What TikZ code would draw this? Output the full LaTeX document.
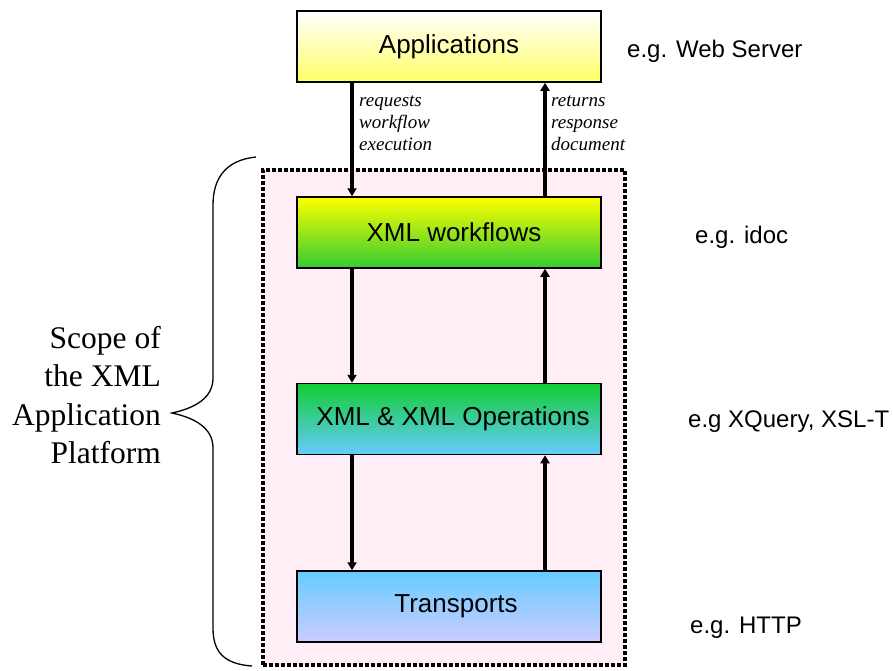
\documentclass[tikz,border=0pt]{standalone}
\usepackage{fontspec}
\setmainfont{Liberation Serif}
\newfontfamily\arialfont{Liberation Sans}
\usetikzlibrary{arrows.meta}
\definecolor{framepink}{RGB}{255,238,245}
\definecolor{appyellow}{RGB}{255,255,102}
\definecolor{wfyellow}{RGB}{255,255,0}
\definecolor{wfgreen}{RGB}{51,204,51}
\definecolor{opgreen}{RGB}{17,204,51}
\definecolor{opblue}{RGB}{102,204,255}
\definecolor{trlilac}{RGB}{204,204,255}
\tikzset{
  layer/.style={draw=black, line width=1.5pt, minimum width=304pt, minimum height=71pt,
    inner sep=0pt, font=\arialfont\fontsize{26}{30}\selectfont},
  flow/.style={line width=3.8pt, -{Triangle[width=9pt,length=8pt]}},
  note/.style={anchor=base west, inner sep=0pt, font=\arialfont\fontsize{24}{28}\selectfont},
  verb/.style={anchor=base west, inner sep=0pt, align=left,
    font=\itshape\fontsize{19}{22}\selectfont},
  scopeframe/.style={draw=black, fill=framepink, line width=4pt,
    dash pattern=on 4pt off 2pt, minimum width=362pt, minimum height=495pt, inner sep=0pt},
}
\begin{document}
\begin{tikzpicture}[x=1pt,y=-1pt]
\useasboundingbox (0,0) rectangle (893,670);

% dotted scope frame
\node[scopeframe] (frame) at (444,417.5) {};

% layers
\node[layer, top color=white, bottom color=appyellow] (apps) at (449,46.5) {Applications};
\node[layer, top color=wfyellow, bottom color=wfgreen] (wf) at (449,232.5) {\hspace*{10pt}XML workflows};
\node[layer, top color=opgreen, bottom color=opblue] (ops) at (449,419) {\hspace*{8pt}XML \& XML Operations};
\node[layer, top color=opblue, bottom color=trlilac] (tr) at (449,606.5) {\hspace*{14pt}Transports};

% request / response flows
\draw[flow] ([xshift=-97pt]apps.south) -- ([xshift=-97pt]wf.north);
\draw[flow] ([xshift=96pt]wf.north) -- ([xshift=96pt]apps.south);
\draw[flow] ([xshift=-97pt]wf.south) -- ([xshift=-97pt]ops.north);
\draw[flow] ([xshift=96pt]ops.north) -- ([xshift=96pt]wf.south);
\draw[flow] ([xshift=-97pt]ops.south) -- ([xshift=-97pt]tr.north);
\draw[flow] ([xshift=96pt]tr.north) -- ([xshift=96pt]ops.south);

% flow labels (anchored at the baseline of their last line)
\node[verb] (req) at (359,150) {requests\\workflow\\execution};
\node[verb] (ret) at (551,150) {returns\\response\\document};

% examples
\node[note] (ex1) at (627,57) {e.g. Web Server};
\node[note] (ex2) at (695,243) {e.g. idoc};
\node[note] (ex3) at (688,427) {e.g XQuery, XSL-T};
\node[note] (ex4) at (690,633) {e.g. HTTP};

% scope brace and label
\coordinate (btop) at (256,157);
\coordinate (btip) at (172,413);
\coordinate (bbot) at (252,666);
\draw[line width=1.3pt]
  (btop) .. controls (226,160) and (213,178) .. (213,205)
  -- (213,378) .. controls (213,398) and (195,408) .. (btip)
  .. controls (195,418) and (213,428) .. (213,448)
  -- (213,628) .. controls (213,652) and (224,664) .. (bbot);
\node[anchor=east, align=right, inner sep=0pt, font=\fontsize{31.5}{38.5}\selectfont]
  (scope) at (161,395) {Scope of\\the XML\\Application\\Platform};
\end{tikzpicture}
\end{document}
